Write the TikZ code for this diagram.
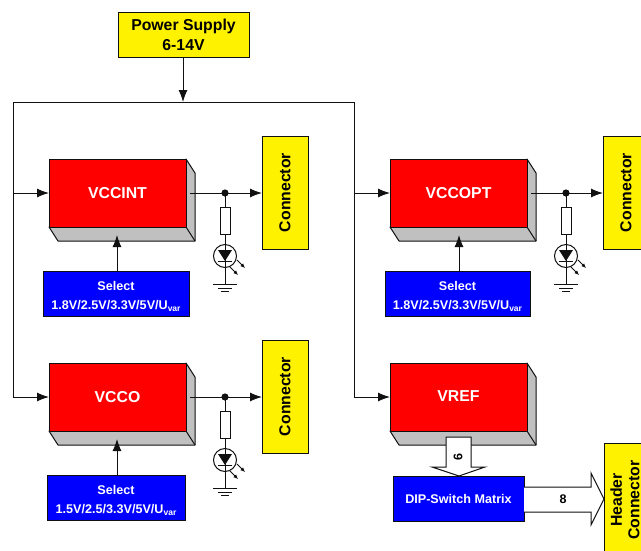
\documentclass[tikz,border=0pt]{standalone}
\usepackage{fontspec}
\setmainfont{Liberation Sans}
\usetikzlibrary{arrows.meta,calc}
\definecolor{ink}{HTML}{101010}
\definecolor{sidegray}{HTML}{C0C0C0}
\tikzset{
  x=1pt,y=-1pt,
  every node/.style={font=\fontsize{15.8}{20}\bfseries,align=center,inner sep=0pt,outer sep=0pt,anchor=north west},
  wire/.style={draw=ink,line width=1pt},
  flow/.style={wire,-{Latex[length=12pt,width=9pt]}},
  redblock/.style={draw=ink,line width=1pt,fill=red,text=white,minimum width=137pt,minimum height=68pt},
  side/.style={draw=ink,line width=1pt,fill=sidegray,line join=round},
  bluebox/.style={draw=ink,line width=1pt,fill=blue,text=white,font=\fontsize{12.6}{18.5}\bfseries},
  yellowbox/.style={draw=ink,line width=1pt,fill=yellow,text=black},
  hollow/.style={draw=ink,line width=1pt,fill=white,line join=miter},
}
\newcommand{\sel}[1]{\rule{0pt}{13pt}Select\\#1/U\smash{\raisebox{-2.5pt}{\fontsize{8.5}{9}\selectfont var}}}
% block: name, x, y, label
\newcommand{\blockat}[4]{%
  \path[side] (#2+137,#3) -- ++(9,14) -- ++(0,68) -- ++(-137,0) -- (#2,#3+68) -- (#2+137,#3+68) -- cycle;
  \draw[side,fill=none] (#2+137,#3+68) -- ++(9,14);
  \node[redblock] (#1) at (#2,#3) {\raisebox{1pt}{#4}};
}
% led branch: name prefix, x, y of the main line
\newcommand{\ledbranch}[3]{%
  \fill[ink] (#2,#3) circle (3.6);
  \coordinate (#1dot) at (#2,#3);
  \coordinate (#1gnd) at (#2,#3+91);
  \node[draw=ink,line width=1pt,fill=white,minimum width=10pt,minimum height=27pt] (#1res) at (#2-5,#3+14) {};
  \draw[wire] (#1dot) -- (#1res.north);
  \draw[wire] (#1res.south) -- (#1gnd);
  \draw[wire] (#2,#3+63) circle (11.5);
  \fill[ink] (#2-7,#3+57) -- (#2+7,#3+57) -- (#2,#3+68) -- cycle;
  \draw[wire] (#2-7,#3+68) -- (#2+7,#3+68);
  \draw[line width=.8pt,draw=ink,-{Latex[length=4.5pt,width=4pt]}] (#2+12,#3+67) -- ++(8,8);
  \draw[line width=.8pt,draw=ink,-{Latex[length=4.5pt,width=4pt]}] (#2+5,#3+74) -- ++(8,8);
  \draw[wire] (#2-12,#3+91) -- (#2+12,#3+91);
  \draw[wire] (#2-7,#3+95) -- (#2+7,#3+95);
  \draw[wire] (#2-4,#3+98) -- (#2+4,#3+98);
}
\begin{document}
\begin{tikzpicture}
\useasboundingbox (0,0) rectangle (641,550);
\clip (0,0) rectangle (641,550);

% supply
\node[yellowbox,minimum width=131pt,minimum height=45pt] (ps) at (118,12) {Power Supply\\6-14V};
\coordinate (bus) at (183,102);
\coordinate (tl) at (13,102);
\coordinate (tr) at (354,102);
\draw[flow] (ps.south -| bus) -- (bus);

% blocks
\blockat{vccint}{49}{159}{VCCINT}
\blockat{vccopt}{390}{159}{VCCOPT}
\blockat{vcco}{49}{363}{VCCO}
\blockat{vref}{390}{363}{VREF}

% bus lines
\coordinate (lb) at (13,397);
\coordinate (rb) at (354,397);
\coordinate (lm) at (13,193);
\coordinate (rm) at (354,193);
\draw[wire,line join=miter] (lb) -- (tl) -- (tr) -- (rb);
\draw[flow] (lm) -- (vccint.west);
\draw[flow] (rm) -- (vccopt.west);
\draw[flow] (lb) -- (vcco.west);
\draw[flow] (rb) -- (vref.west);

% connectors
\node[yellowbox,minimum width=46pt,minimum height=113pt] (c1) at (262,136) {\rotatebox{90}{Connector}};
\node[yellowbox,minimum width=46pt,minimum height=113pt] (c2) at (603,136) {\rotatebox{90}{Connector}};
\node[yellowbox,minimum width=46pt,minimum height=113pt] (c3) at (262,340) {\rotatebox{90}{Connector}};
\node[yellowbox,minimum width=46pt,minimum height=114pt] (c4) at (604,443) {\hspace*{-4pt}\rotatebox{90}{\parbox{80pt}{\fontsize{15.8}{17.5}\selectfont\centering Header\\Connector}}};

% outputs
\coordinate (o1) at (190,193);
\coordinate (o2) at (531,193);
\coordinate (o3) at (190,397);
\draw[flow] (o1) -- (o1 -| c1.west);
\draw[flow] (o2) -- (o2 -| c2.west);
\draw[flow] (o3) -- (o3 -| c3.west);
\ledbranch{la}{225}{193}
\ledbranch{lb}{566}{193}
\ledbranch{lc}{225}{397}

% selects
\node[bluebox,minimum width=146pt,minimum height=45pt] (s1) at (43,271) {\sel{1.8V/2.5V/3.3V/5V}};
\node[bluebox,minimum width=145pt,minimum height=45pt] (s2) at (385,271) {\sel{1.8V/2.5V/3.3V/5V}};
\node[bluebox,minimum width=138pt,minimum height=45pt] (s3) at (47,475) {\sel{1.5V/2.5/3.3V/5V}};
\coordinate (a1) at (117,235);
\coordinate (a2) at (459,235);
\coordinate (a3) at (117,439);
\draw[flow] (a1 |- s1.north) -- (a1);
\draw[flow] (a2 |- s2.north) -- (a2);
\draw[flow] (a3 |- s3.north) -- (a3);

% dip
\node[bluebox,minimum width=131pt,minimum height=45pt] (dip) at (393,476) {DIP-Switch Matrix};
\path[hollow] (446,437) -- (471,437) -- (471,467) -- (485,467) -- (459,476) -- (432,467) -- (446,467) -- cycle;
\path[hollow] (dip.east |- 0,487) -- (591,487) -- (591,473) -- (c4.west |- 0,499) -- (591,525) -- (591,512) -- (dip.east |- 0,512);
\node[anchor=center,font=\fontsize{12.5}{15}\bfseries] (six) at (458,457) {\rotatebox{90}{6}};
\node[anchor=center,font=\fontsize{12.5}{15}\bfseries] (eight) at (563,499) {8};
\end{tikzpicture}
\end{document}
